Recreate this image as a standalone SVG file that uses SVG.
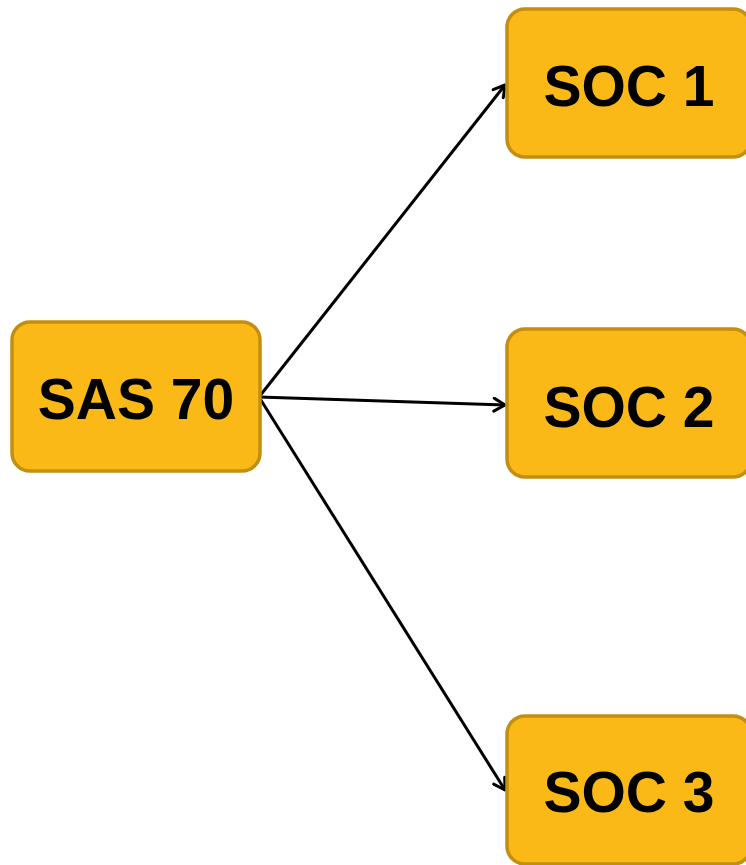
<svg xmlns="http://www.w3.org/2000/svg" width="746" height="865" viewBox="0 0 746 865">
<style>
.box{fill:#FBB917;stroke:#C38F10;stroke-width:3.5}
.lbl{font-family:"Liberation Sans",Arial,sans-serif;font-weight:bold;font-size:57px;fill:#000;text-anchor:middle}
.edge{stroke:#000;stroke-width:3;fill:none}
</style>
<defs>
<marker id="arr" markerWidth="16" markerHeight="16" refX="13" refY="8" orient="auto" markerUnits="userSpaceOnUse">
<path d="M2,1.5 L13,8 L2,14.5" fill="none" stroke="#000" stroke-width="3" stroke-linecap="round" stroke-linejoin="round"/>
</marker>
</defs>
<g id="connectors">
<line class="edge" x1="259" y1="397" x2="505" y2="85" marker-end="url(#arr)"/>
<line class="edge" x1="259" y1="397" x2="505" y2="405" marker-end="url(#arr)"/>
<line class="edge" x1="259" y1="397" x2="505" y2="790" marker-end="url(#arr)"/>
</g>
<g id="sas70">
<rect class="box" x="12" y="322" width="248" height="149" rx="18"/>
<text class="lbl" x="136" y="419">SAS 70</text>
</g>
<g id="soc1">
<rect class="box" x="507" y="9" width="244" height="148" rx="18"/>
<text class="lbl" x="629" y="106">SOC 1</text>
</g>
<g id="soc2">
<rect class="box" x="507" y="329" width="244" height="148" rx="18"/>
<text class="lbl" x="629" y="427">SOC 2</text>
</g>
<g id="soc3">
<rect class="box" x="507" y="716" width="244" height="148" rx="18"/>
<text class="lbl" x="629" y="812">SOC 3</text>
</g>
</svg>
